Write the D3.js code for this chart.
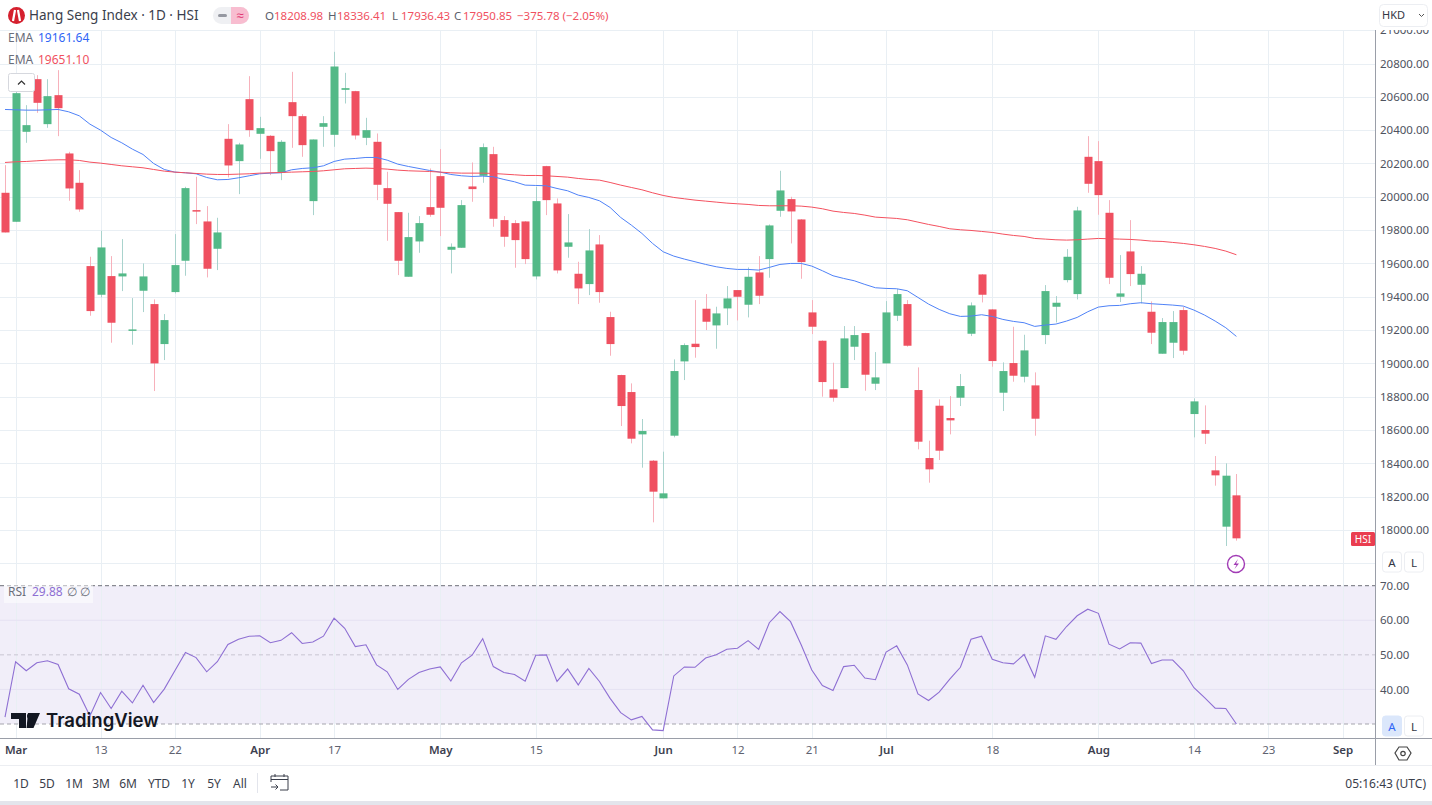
<!DOCTYPE html>
<html>
<head>
<meta charset="utf-8">
<title>Hang Seng Index</title>
<script src="https://d3js.org/d3.v7.min.js"></script>
<style>
    html, body { margin: 0; padding: 0; background: #fff; overflow: hidden; }
    svg { display: block; }
    text { font-family: "Noto Sans", sans-serif; }
    .axis path { display: none; }
    .axis text { fill: #4f5360; font-size: 11.5px; }
</style>
</head>
<body>
<svg id="chart" width="1432" height="805"></svg>
<script>
// values, one per trading day
var opens = [20024,19850,20390,20706,20436,20610,20260,20084,19584,19412,19524,19522,19196,19436,19356,19116,19428,19616,19920,19852,19688,20348,20214,20586,20378,20366,20144,20568,20484,19974,20420,20372,20642,20634,20354,20330,20052,19908,19520,19732,19938,20124,19682,19694,20062,20126,20256,19860,19842,19852,19522,20184,19960,19700,19538,19476,19714,19278,18930,18828,18574,18416,18190,18566,19012,19118,19328,19228,19330,19440,19352,19546,19626,19916,19986,19864,19306,19136,18844,18852,19100,19182,18878,19000,19286,19356,18840,18432,18746,18672,18794,19178,19534,19324,18824,19002,18920,18868,19170,19340,19500,19416,20240,20214,19904,19400,19672,19472,19310,19058,19124,19320,18696,18600,18358,18020,18208];
var highs = [20190,20640,20550,20730,20706,20760,20270,20160,19640,19796,19644,19746,19392,19600,19384,19296,19776,20060,20120,19944,19874,20436,20324,20724,20480,20370,20340,20750,20496,20344,20484,20870,20744,20636,20474,20380,20150,19908,19904,19884,20170,20286,19720,19980,20206,20320,20300,19884,19860,19854,20060,20186,19990,19896,19610,19806,19770,19310,18932,18880,18666,18420,18470,19024,19120,19380,19416,19340,19464,19440,19576,19644,19834,20156,20000,19866,19380,19138,19004,19224,19224,19184,19068,19374,19446,19380,18976,18536,18784,18804,18936,19366,19536,19326,19006,19220,19172,18946,19470,19404,19686,19940,20364,20334,19980,19650,19860,19584,19372,19272,19314,19340,18790,18748,18444,18400,18336];
var lows = [19786,19850,20324,20504,20414,20364,19976,19910,19286,19396,19124,19434,19112,19308,18834,19020,19420,19526,19836,19516,19560,20116,20016,20360,20228,20130,20100,20294,20240,19890,20300,20300,20560,20344,20310,19980,19736,19530,19520,19664,19880,19764,19540,19694,19970,20084,19820,19700,19574,19596,19504,19890,19540,19634,19356,19410,19364,19046,18624,18520,18374,18046,18190,18556,18900,19034,19200,19088,19230,19258,19276,19356,19514,19880,19720,19508,19176,18800,18770,18852,19020,18836,18840,19000,19254,19100,18484,18284,18420,18574,18744,19164,19366,18980,18714,18890,18886,18566,19116,19246,19486,19384,20024,19892,19476,19368,19464,19360,19116,19058,19032,19052,18556,18516,18266,17904,17936];
var closes = [19786,20622,20430,20564,20604,20532,20050,19924,19314,19696,19244,19540,19204,19522,19000,19260,19590,20052,19914,19568,19786,20188,20314,20400,20412,20274,20330,20484,20310,20344,20442,20782,20652,20368,20400,20072,19958,19616,19758,19842,19892,19934,19700,19950,20046,20298,19868,19760,19740,19626,19974,19980,19558,19726,19450,19678,19428,19116,18744,18548,18594,18230,18220,18954,19110,19098,19250,19300,19390,19400,19520,19406,19828,20038,19912,19608,19220,18888,18794,19150,19170,18932,18916,19306,19416,19106,18530,18364,18476,18658,18864,19348,19412,19014,18954,18926,19078,18668,19434,19364,19640,19918,20078,20010,19514,19420,19536,19538,19184,19248,19248,19076,18772,18578,18328,18326,17950];
var emaFast = [20524,20522,20520,20520,20522,20524,20510,20486,20436,20400,20356,20324,20286,20254,20200,20164,20148,20144,20138,20116,20102,20104,20114,20126,20138,20142,20144,20162,20170,20174,20186,20212,20226,20230,20236,20236,20220,20196,20182,20170,20158,20148,20134,20126,20122,20124,20120,20104,20090,20070,20068,20066,20050,20036,20010,19996,19976,19936,19876,19830,19780,19720,19670,19644,19626,19610,19594,19580,19570,19564,19564,19560,19576,19594,19600,19600,19584,19556,19526,19510,19496,19474,19454,19450,19448,19436,19396,19356,19324,19298,19282,19284,19292,19282,19264,19252,19244,19222,19230,19236,19254,19276,19310,19338,19346,19348,19358,19364,19358,19354,19350,19344,19320,19290,19254,19214,19162];
var emaSlow = [20206,20210,20212,20216,20220,20222,20222,20218,20208,20202,20194,20186,20180,20174,20164,20154,20148,20144,20140,20136,20134,20134,20136,20138,20142,20144,20146,20148,20150,20152,20156,20162,20168,20170,20172,20170,20166,20160,20156,20154,20152,20148,20144,20142,20142,20142,20140,20136,20132,20128,20128,20126,20122,20118,20110,20104,20100,20086,20070,20056,20042,20024,20008,19996,19988,19980,19974,19968,19962,19958,19954,19948,19946,19946,19946,19944,19938,19928,19914,19906,19900,19890,19878,19874,19870,19862,19848,19834,19822,19808,19802,19798,19792,19786,19776,19768,19762,19750,19746,19742,19740,19742,19746,19750,19748,19746,19744,19740,19734,19732,19726,19720,19712,19702,19690,19674,19652];
var rsiValues = [32.0,48.0,45.4,47.7,48.3,47.2,40.2,38.6,32.3,39.1,34.5,39.5,36.1,41.2,36.2,40.1,45.4,50.7,49.2,45.1,48.0,53.0,54.5,55.4,55.5,53.5,54.2,56.4,53.3,53.7,55.4,60.6,57.7,52.4,52.9,47.1,45.1,40.0,42.9,44.9,45.9,46.5,42.4,47.7,49.9,54.7,46.6,44.9,44.3,42.4,49.9,50.0,42.3,45.9,41.3,46.1,42.3,37.4,33.3,31.2,32.2,28.3,28.1,43.9,46.5,46.4,49.1,50.0,51.6,51.9,54.1,51.6,59.3,62.5,59.6,52.9,45.6,41.1,39.7,46.6,47.0,43.3,42.8,50.8,52.6,47.1,38.7,36.8,39.2,43.0,46.4,54.5,55.4,48.7,47.7,47.4,50.1,43.5,55.5,54.5,58.2,61.3,63.2,62.0,53.1,51.7,53.5,53.4,47.5,48.5,48.5,45.4,40.5,37.6,34.6,34.5,30.0];

var priceTicks = [18000,18200,18400,18600,18800,19000,19200,19400,19600,19800,20000,20200,20400,20600,20800,21000];
var priceGrid = [17800].concat(priceTicks);
var rsiTicks = [40,50,60,70];
var rsiSolid = [40,60];
var rsiDashed = [30,50,70];
var timeTickDays = [1,9,16,24,31,41,50,62,69,76,83,93,103,112,119,126];
var timeTickLabels = ["Mar","13","22","Apr","17","May","15","Jun","12","21","Jul","18","Aug","14","23","Sep"];
var rangeLabels = ["1D","5D","1M","3M","6M","YTD","1Y","5Y","All"];
var rangeLabelX = [21,47,74,101,128,159,188,214,240];
var ohlcLabels = ["O","H","L","C"];
var ohlcValues = ["18208.98","18336.41","17936.43","17950.85"];
var ohlcLabelX = [265,328,392,454];

var green = "#53b987", red = "#ef5060", greenWick = "#a9d3cd", redWick = "#f7b1bb";
var gridColor = "#e9eff4", axisColor = "#9a9ea8";
var purple = "#8e6fd3";

var svg = d3.select("#chart");
var x = d3.scaleLinear().domain([0, 116]).range([5, 1236.4]);
var y = d3.scaleLinear().domain([18000, 20800]).range([530, 63.5]);
var rsiY = d3.scaleLinear().domain([30, 70]).range([724, 585.7]);

var paneRight = 1375, paneTop = 30, paneBottom = 585.5, timeTop = 738.5;

var defs = svg.append("defs");
defs.append("clipPath").attr("id", "mainClip").append("rect")
        .attr("x", 0).attr("y", paneTop).attr("width", paneRight).attr("height", paneBottom - paneTop);
defs.append("clipPath").attr("id", "rsiClip").append("rect")
        .attr("x", 0).attr("y", paneBottom).attr("width", paneRight).attr("height", timeTop - paneBottom);
defs.append("clipPath").attr("id", "axisClip").append("rect")
        .attr("x", paneRight).attr("y", paneTop).attr("width", 57).attr("height", paneBottom - paneTop - 8);

// rsi band goes under the grid
svg.append("rect")
        .attr("x", 0).attr("y", rsiY(70))
        .attr("width", paneRight).attr("height", rsiY(30) - rsiY(70))
        .attr("fill", "#f1eef9");

// grid
svg.append("g").selectAll("line").data(priceGrid).enter().append("line")
        .attr("x1", 0).attr("x2", paneRight)
        .attr("y1", function (d) { return Math.round(y(d)) + 0.5; })
        .attr("y2", function (d) { return Math.round(y(d)) + 0.5; })
        .attr("stroke", gridColor);
svg.append("g").selectAll("line").data(timeTickDays).enter().append("line")
        .attr("x1", function (d) { return Math.round(x(d)) + 0.5; })
        .attr("x2", function (d) { return Math.round(x(d)) + 0.5; })
        .attr("y1", paneTop).attr("y2", timeTop)
        .attr("stroke", gridColor);
svg.append("g").selectAll("line").data(rsiSolid).enter().append("line")
        .attr("x1", 0).attr("x2", paneRight)
        .attr("y1", function (d) { return rsiY(d); })
        .attr("y2", function (d) { return rsiY(d); })
        .attr("stroke", "#e6e2f2");
svg.append("g").selectAll("line").data(rsiDashed).enter().append("line")
        .attr("x1", 0).attr("x2", paneRight)
        .attr("y1", function (d) { return rsiY(d); })
        .attr("y2", function (d) { return rsiY(d); })
        .attr("stroke", function (d) { return d === 70 ? "#6d6f78" : d === 50 ? "#c9c6d2" : "#a5a5ad"; })
        .attr("stroke-dasharray", "4,3");

// candles
var candles = svg.append("g").attr("clip-path", "url(#mainClip)")
        .selectAll("g").data(d3.range(opens.length)).enter().append("g");
candles.append("line")
        .attr("x1", function (i) { return Math.round(x(i)) + 0.5; })
        .attr("x2", function (i) { return Math.round(x(i)) + 0.5; })
        .attr("y1", function (i) { return y(highs[i]); })
        .attr("y2", function (i) { return y(lows[i]); })
        .attr("stroke", function (i) { return closes[i] >= opens[i] ? greenWick : redWick; });
candles.append("rect")
        .attr("x", function (i) { return Math.round(x(i)) - 3.5; })
        .attr("width", 8)
        .attr("y", function (i) { return y(Math.max(opens[i], closes[i])); })
        .attr("height", function (i) { return Math.max(1.5, Math.abs(y(opens[i]) - y(closes[i]))); })
        .attr("fill", function (i) { return closes[i] >= opens[i] ? green : red; });

// moving averages
var emaLine = d3.line()
        .x(function (d, i) { return x(i); })
        .y(function (d) { return y(d); });
svg.append("path").datum(emaFast).attr("clip-path", "url(#mainClip)")
        .attr("d", emaLine).attr("fill", "none").attr("stroke", "#4f82f7").attr("stroke-width", 1);
svg.append("path").datum(emaSlow).attr("clip-path", "url(#mainClip)")
        .attr("d", emaLine).attr("fill", "none").attr("stroke", "#f4515f").attr("stroke-width", 1);

// rsi line
var rsiLine = d3.line()
        .x(function (d, i) { return x(i); })
        .y(function (d) { return rsiY(d); });
svg.append("path").datum(rsiValues).attr("clip-path", "url(#rsiClip)")
        .attr("d", rsiLine).attr("fill", "none").attr("stroke", purple).attr("stroke-width", 1.1);

// axes, the price one sits in a clipped wrapper so the top label is cut by the pane edge
svg.append("g").attr("clip-path", "url(#axisClip)")
        .append("g").attr("class", "axis").attr("transform", "translate(" + paneRight + ",0)")
        .call(d3.axisRight(y).tickValues(priceTicks).tickSize(0).tickPadding(5)
                .tickFormat(function (d) { return d3.format(".2f")(d); }));
svg.append("g").attr("class", "axis").attr("transform", "translate(" + paneRight + ",0)")
        .call(d3.axisRight(rsiY).tickValues(rsiTicks).tickSize(0).tickPadding(5)
                .tickFormat(function (d) { return d3.format(".2f")(d); }));
svg.append("g").attr("class", "axis").attr("transform", "translate(0," + timeTop + ")")
        .call(d3.axisBottom(x).tickValues(timeTickDays).tickSize(0).tickPadding(7)
                .tickFormat(function (d, i) { return timeTickLabels[i]; }))
        .selectAll("text")
        .style("font-weight", function (d, i) { return isNaN(+timeTickLabels[i]) ? 600 : 400; })
        .style("fill", function (d, i) { return isNaN(+timeTickLabels[i]) ? "#3d4150" : "#5e6270"; });

// frame lines
svg.append("line").attr("x1", paneRight + 0.5).attr("x2", paneRight + 0.5).attr("y1", paneTop).attr("y2", 765)
        .attr("stroke", axisColor);
svg.append("line").attr("x1", 0).attr("x2", 1432).attr("y1", timeTop).attr("y2", timeTop)
        .attr("stroke", axisColor);
svg.append("line").attr("x1", 0).attr("x2", 1432).attr("y1", 765.5).attr("y2", 765.5)
        .attr("stroke", "#eceef2");
svg.append("rect").attr("x", 0).attr("y", 801).attr("width", 1432).attr("height", 4).attr("fill", "#e3e5ec");

// header legend
svg.append("circle").attr("cx", 16.5).attr("cy", 15.5).attr("r", 8.5).attr("fill", "#d5202e");
svg.append("path").attr("d", "M15 10 L13 21 M18 10 L20 21").attr("stroke", "#fff").attr("stroke-width", 2.2).attr("fill", "none");
svg.append("text").attr("x", 29).attr("y", 20).attr("font-size", 13.5).attr("fill", "#3a3e4b")
        .text("Hang Seng Index · 1D · HSI");
svg.append("rect").attr("x", 213).attr("y", 7).attr("width", 36).attr("height", 17).attr("rx", 8.5).attr("fill", "#eff0f3");
svg.append("path").attr("d", "M231 7 H240.5 A8.5 8.5 0 0 1 240.5 24 H231 Z").attr("fill", "#f8bdd0");
svg.append("rect").attr("x", 218).attr("y", 14).attr("width", 9).attr("height", 3).attr("rx", 1.5).attr("fill", "#9598a1");
svg.append("text").attr("x", 240).attr("y", 20).attr("text-anchor", "middle").attr("font-size", 13).attr("fill", "#e0316f").text("≈");

svg.append("g").selectAll("text").data(ohlcLabels).enter().append("text")
        .attr("x", function (d, i) { return ohlcLabelX[i]; })
        .attr("y", 19.5).attr("font-size", 11.5).attr("fill", "#5a5e6b")
        .text(function (d) { return d; });
svg.append("g").selectAll("text").data(ohlcValues).enter().append("text")
        .attr("x", function (d, i) { return ohlcLabelX[i] + 9; })
        .attr("y", 19.5).attr("font-size", 11.5).attr("fill", "#f0515f")
        .text(function (d) { return d; });
svg.append("text").attr("x", 517).attr("y", 19.5).attr("font-size", 11.5).attr("fill", "#f0515f")
        .text("−375.78 (−2.05%)");

svg.append("text").attr("x", 8).attr("y", 42).attr("font-size", 12).attr("fill", "#6a6e7a").text("EMA");
svg.append("text").attr("x", 38).attr("y", 42).attr("font-size", 12).attr("fill", "#2f66f5").text("19161.64");
svg.append("text").attr("x", 8).attr("y", 64).attr("font-size", 12).attr("fill", "#6a6e7a").text("EMA");
svg.append("text").attr("x", 38).attr("y", 64).attr("font-size", 12).attr("fill", "#f0515f").text("19651.10");

svg.append("rect").attr("x", 8.5).attr("y", 73.5).attr("width", 26).attr("height", 18).attr("rx", 2)
        .attr("fill", "#fff").attr("stroke", "#d6d8de");
svg.append("path").attr("d", "M18 84.5 L21.5 81 L25 84.5").attr("fill", "none").attr("stroke", "#333").attr("stroke-width", 1.2);

// currency box
svg.append("rect").attr("x", 1379.5).attr("y", 4.5).attr("width", 48).attr("height", 22).attr("rx", 4)
        .attr("fill", "#fff").attr("stroke", "#eceef2");
svg.append("text").attr("x", 1382).attr("y", 19).attr("font-size", 11).attr("fill", "#333744").text("HKD");
svg.append("path").attr("d", "M1419 14 L1421.5 16.5 L1424 14").attr("fill", "none").attr("stroke", "#555").attr("stroke-width", 1);

// last price tag
svg.append("rect").attr("x", 1351).attr("y", 532).attr("width", 24).attr("height", 14).attr("rx", 1.5).attr("fill", "#ea3d50");
svg.append("text").attr("x", 1363).attr("y", 543).attr("text-anchor", "middle").attr("font-size", 10).attr("fill", "#fff").text("HSI");

// A / L buttons
function scaleButtons(top, autoOn) {
    svg.append("rect").attr("x", 1382.5).attr("y", top).attr("width", 19).attr("height", 20).attr("rx", 3)
            .attr("fill", autoOn ? "#dbe7fb" : "#fff").attr("stroke", autoOn ? "#dbe7fb" : "#eceef2");
    svg.append("text").attr("x", 1392).attr("y", top + 14.5).attr("text-anchor", "middle").attr("font-size", 11.5)
            .attr("fill", autoOn ? "#2f66f5" : "#333744").text("A");
    svg.append("rect").attr("x", 1404.5).attr("y", top).attr("width", 19).attr("height", 20).attr("rx", 3)
            .attr("fill", "#fff").attr("stroke", "#eceef2");
    svg.append("text").attr("x", 1414).attr("y", top + 14.5).attr("text-anchor", "middle").attr("font-size", 11.5)
            .attr("fill", "#333744").text("L");
}
scaleButtons(552, false);
scaleButtons(716, true);

// earnings/lightning mark
svg.append("circle").attr("cx", 1236).attr("cy", 564).attr("r", 8.5)
        .attr("fill", "#fff").attr("stroke", "#a13bb5").attr("stroke-width", 1.4);
svg.append("path").attr("d", "M1238 559 L1233.5 565 L1236.5 565 L1234.5 569 L1239 563.5 L1236 563.5 Z").attr("fill", "#a13bb5");

// rsi legend
svg.append("rect").attr("x", 4).attr("y", 584).attr("width", 89).attr("height", 19).attr("fill", "#fff").attr("opacity", 0.5);
svg.append("text").attr("x", 8).attr("y", 596).attr("font-size", 12).attr("fill", "#6a6e7a").text("RSI");
svg.append("text").attr("x", 32).attr("y", 596).attr("font-size", 12).attr("fill", purple).text("29.88");
svg.append("text").attr("x", 67).attr("y", 596).attr("font-size", 12).attr("fill", "#6a6e7a").text("∅ ∅");

// watermark
svg.append("path").attr("d", "M11 713 H26 V728 H19 V719 H11 Z M28 713 H40 L33.5 728 H26.5 Z").attr("fill", "#131722");
svg.append("circle").attr("cx", 30).attr("cy", 716).attr("r", 3).attr("fill", "#131722");
svg.append("text").attr("x", 46).attr("y", 727).attr("font-size", 18.5).attr("font-weight", 600).attr("fill", "#131722")
        .style("font-family", "Inter, sans-serif").text("TradingView");

// settings hexagon
svg.append("path").attr("d", "M1399 747 H1407 L1411 753 L1407 760 H1399 L1395 753 Z").attr("fill", "none").attr("stroke", "#444").attr("stroke-width", 1.2);
svg.append("circle").attr("cx", 1403).attr("cy", 753.5).attr("r", 2.2).attr("fill", "none").attr("stroke", "#444").attr("stroke-width", 1.2);

// bottom bar
svg.append("g").selectAll("text").data(rangeLabels).enter().append("text")
        .attr("x", function (d, i) { return rangeLabelX[i]; })
        .attr("y", 788).attr("text-anchor", "middle").attr("font-size", 12).attr("fill", "#3a3e4b")
        .text(function (d) { return d; });
svg.append("line").attr("x1", 257.5).attr("x2", 257.5).attr("y1", 773).attr("y2", 793).attr("stroke", "#e3e5ec");
svg.append("path").attr("d", "M271 782 V776 H288 V790 H280 M271 779.5 H288 M275 774 V777 M284 774 V777 M271 787 H278 M275.5 784.5 L278 787 L275.5 789.5")
        .attr("fill", "none").attr("stroke", "#3a3e4b").attr("stroke-width", 1);
svg.append("text").attr("x", 1426).attr("y", 788).attr("text-anchor", "end").attr("font-size", 12).attr("fill", "#3a3e4b")
        .text("05:16:43 (UTC)");
</script>
</body>
</html>
